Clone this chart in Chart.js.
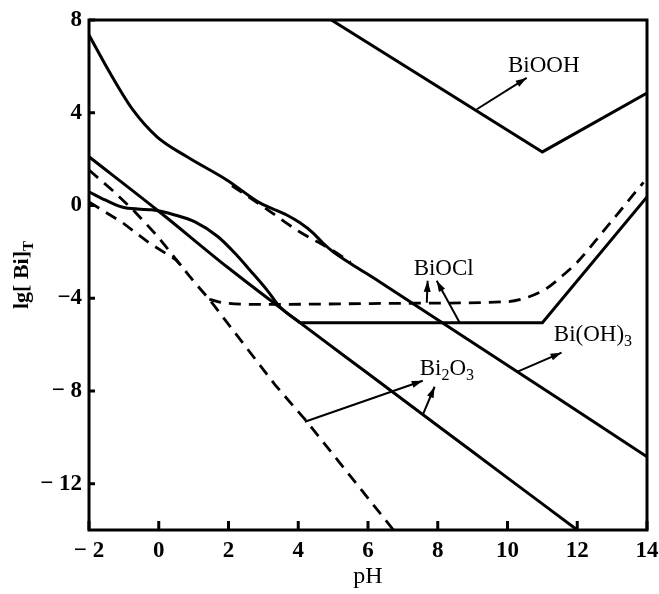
<!DOCTYPE html>
<html>
<head>
<meta charset="utf-8">
<script src="https://cdn.jsdelivr.net/npm/chart.js@4.4.1/dist/chart.umd.min.js"></script>
<style>
  html, body { margin: 0; padding: 0; background: #fff; }
  canvas { display: block; }
</style>
</head>
<body>
<canvas id="biChart" width="659" height="594"></canvas>
<script>
// axes
const phTicks = [-2, 0, 2, 4, 6, 8, 10, 12, 14];
const phTickLabels = ['− 2', '0', '2', '4', '6', '8', '10', '12', '14'];
const lgTicks = [-12, -8, -4, 0, 4, 8];
const lgTickLabels = ['− 12', '− 8', '−4', '0', '4', '8'];

// curves (pH, lg[Bi]T)
const bioohPH = [4.95, 11.0, 14];
const bioohLg = [8, 2.31, 4.85];

const upperPH = [-2, -1.4, -0.74, -0.05, 0.81, 1.95, 2.9, 3.67, 4.05, 4.42, 4.7, 5.0, 5.5, 6.34, 14];
const upperLg = [7.35, 5.72, 4.12, 2.96, 2.1, 1.1, 0.11, -0.41, -0.75, -1.18, -1.61, -2.0, -2.5, -3.3, -10.84];

const upperDashPH = [2.1, 3.0, 4.0, 5.0, 5.5];
const upperDashLg = [0.85, -0.06, -1.1, -1.95, -2.45];

const straightPH = [-2, 0, 2, 4, 6, 8, 10, 12];
const straightLg = [2.1, -0.25, -2.7, -5.0, -7.25, -9.5, -11.75, -14];

const humpPH = [-2, -1.54, -0.97, -0.2, 0.46, 1.04, 1.7, 2.27, 2.61, 3.1, 3.47, 4.05];
const humpLg = [0.59, 0.24, -0.1, -0.19, -0.41, -0.71, -1.35, -2.2, -2.78, -3.64, -4.37, -5.06];

const biohPH = [4.05, 11.0, 14];
const biohLg = [-5.06, -5.06, 0.37];

const steepDashPH = [-2, -1.34, -0.68, -0.02, 0.55, 1.04, 1.45, 3.33, 4.25, 6.73];
const steepDashLg = [1.53, 0.67, -0.28, -1.35, -2.43, -3.34, -4.05, -7.73, -9.33, -14];

const lowDashPH = [-2, -1.03, -0.28, 0.49, 0.8];
const lowDashLg = [0.15, -0.75, -1.61, -2.34, -2.85];

const biociDashPH = [1.45, 1.95, 3, 7, 10, 10.6, 11.1, 11.6, 12.0, 12.7, 13.9];
const biociDashLg = [-4.05, -4.22, -4.27, -4.22, -4.15, -3.95, -3.6, -3.0, -2.45, -1.2, 1.0];

// labels and arrows (data units), "_" marks a one-character subscript
const labelTexts = ['BiOOH', 'BiOCl', 'Bi(OH)_3', 'Bi_2O_3'];
const labelPH = [11.04, 8.17, 12.45, 8.26];
const labelLg = [6.1, -2.69, -5.5, -7.0];

const arrowFromPH = [9.12, 7.685, 8.63, 10.29, 4.19, 7.57];
const arrowFromLg = [4.15, -4.2, -5.06, -7.17, -9.33, -9.03];
const arrowToPH = [10.55, 7.71, 7.97, 11.55, 7.57, 7.91];
const arrowToLg = [5.5, -3.25, -3.25, -6.35, -7.56, -7.82];

const zip = (xs, ys) => xs.map((x, i) => ({ x: x, y: ys[i] }));

function series(xs, ys, dashed, smooth) {
    return {
        data: zip(xs, ys),
        borderColor: '#000',
        borderWidth: dashed ? 2.8 : 3,
        borderDash: dashed ? [12, 8] : [],
        pointRadius: 0,
        fill: false,
        tension: 0,
        cubicInterpolationMode: smooth ? 'monotone' : 'default'
    };
}

function drawRich(ctx, text, cx, cy, size, bold) {
    const runs = [];
    for (let i = 0; i < text.length; i++) {
        if (text[i] === '_') { runs.push({ t: text[i + 1], sub: true }); i++; }
        else runs.push({ t: text[i], sub: false });
    }
    const w = bold ? 'bold ' : '';
    const main = w + size + 'px "Liberation Serif"';
    const small = w + Math.round(size * 0.7) + 'px "Liberation Serif"';
    let total = 0;
    runs.forEach(r => { ctx.font = r.sub ? small : main; r.w = ctx.measureText(r.t).width; total += r.w; });
    let x = cx - total / 2;
    ctx.textBaseline = 'alphabetic';
    ctx.textAlign = 'left';
    runs.forEach(r => {
        ctx.font = r.sub ? small : main;
        ctx.fillText(r.t, x, cy + size * 0.33 + (r.sub ? size * 0.22 : 0));
        x += r.w;
    });
}

const framePlugin = {
    id: 'frame',
    afterDraw(chart) {
        const ctx = chart.ctx;
        const a = chart.chartArea;
        const xs = chart.scales.x, ys = chart.scales.y;
        ctx.save();
        ctx.strokeStyle = '#000';
        ctx.fillStyle = '#000';
        ctx.lineWidth = 3;
        ctx.strokeRect(a.left, a.top, a.right - a.left, a.bottom - a.top);

        // inward tick marks
        ctx.beginPath();
        phTicks.forEach(v => {
            const px = xs.getPixelForValue(v);
            ctx.moveTo(px, a.bottom); ctx.lineTo(px, a.bottom - 9);
        });
        lgTicks.forEach(v => {
            const py = ys.getPixelForValue(v);
            ctx.moveTo(a.left, py); ctx.lineTo(a.left + 6, py);
        });
        ctx.stroke();

        // arrows pointing to the labels
        ctx.lineWidth = 2;
        arrowFromPH.forEach((v, i) => {
            const x0 = xs.getPixelForValue(v), y0 = ys.getPixelForValue(arrowFromLg[i]);
            const x1 = xs.getPixelForValue(arrowToPH[i]), y1 = ys.getPixelForValue(arrowToLg[i]);
            const ang = Math.atan2(y1 - y0, x1 - x0);
            ctx.beginPath();
            ctx.moveTo(x0, y0); ctx.lineTo(x1, y1);
            ctx.stroke();
            ctx.beginPath();
            ctx.moveTo(x1, y1);
            ctx.lineTo(x1 - 11 * Math.cos(ang) + 3.5 * Math.sin(ang), y1 - 11 * Math.sin(ang) - 3.5 * Math.cos(ang));
            ctx.lineTo(x1 - 11 * Math.cos(ang) - 3.5 * Math.sin(ang), y1 - 11 * Math.sin(ang) + 3.5 * Math.cos(ang));
            ctx.closePath();
            ctx.fill();
        });

        // curve labels
        labelTexts.forEach((t, i) => {
            drawRich(ctx, t, xs.getPixelForValue(labelPH[i]), ys.getPixelForValue(labelLg[i]), 23, false);
        });

        // y-axis title, rotated
        ctx.translate(21, (a.top + a.bottom) / 2);
        ctx.rotate(-Math.PI / 2);
        drawRich(ctx, 'lg[ Bi]_T', 0, 0, 22, true);
        ctx.restore();
    }
};

const ctx = document.getElementById('biChart').getContext('2d');
Chart.defaults.font.family = '"Liberation Serif"';
Chart.defaults.color = '#000';

new Chart(ctx, {
    type: 'line',
    data: {
        datasets: [
            series(bioohPH, bioohLg, false, false),
            series(upperPH, upperLg, false, true),
            series(upperDashPH, upperDashLg, true, true),
            series(straightPH, straightLg, false, true),
            series(humpPH, humpLg, false, true),
            series(biohPH, biohLg, false, false),
            series(steepDashPH, steepDashLg, true, false),
            series(lowDashPH, lowDashLg, true, false),
            series(biociDashPH, biociDashLg, true, true)
        ]
    },
    options: {
        responsive: false,
        animation: false,
        devicePixelRatio: 1,
        layout: { padding: { left: 0, top: 20, right: 12, bottom: 0 } },
        plugins: { legend: { display: false }, tooltip: { enabled: false } },
        scales: {
            x: {
                type: 'linear',
                min: -2,
                max: 14,
                afterBuildTicks: s => { s.ticks = phTicks.map(v => ({ value: v })); },
                afterFit: s => { s.height = 64; s.paddingLeft = 0; s.paddingRight = 0; },
                grid: { display: false, drawTicks: false },
                border: { display: false },
                ticks: {
                    padding: 7,
                    maxRotation: 0,
                    autoSkip: false,
                    font: { size: 23, weight: 'bold' },
                    callback: v => phTickLabels[phTicks.indexOf(v)]
                },
                title: {
                    display: true,
                    text: 'pH',
                    font: { size: 24 },
                    padding: { top: 0, bottom: 3 }
                }
            },
            y: {
                type: 'linear',
                min: -14,
                max: 8,
                afterBuildTicks: s => { s.ticks = lgTicks.map(v => ({ value: v })); },
                afterFit: s => { s.width = 89; s.paddingTop = 0; s.paddingBottom = 0; },
                grid: { display: false, drawTicks: false },
                border: { display: false },
                ticks: {
                    padding: 7,
                    autoSkip: false,
                    font: { size: 23, weight: 'bold' },
                    callback: v => lgTickLabels[lgTicks.indexOf(v)]
                }
            }
        }
    },
    plugins: [framePlugin]
});
</script>
</body>
</html>
